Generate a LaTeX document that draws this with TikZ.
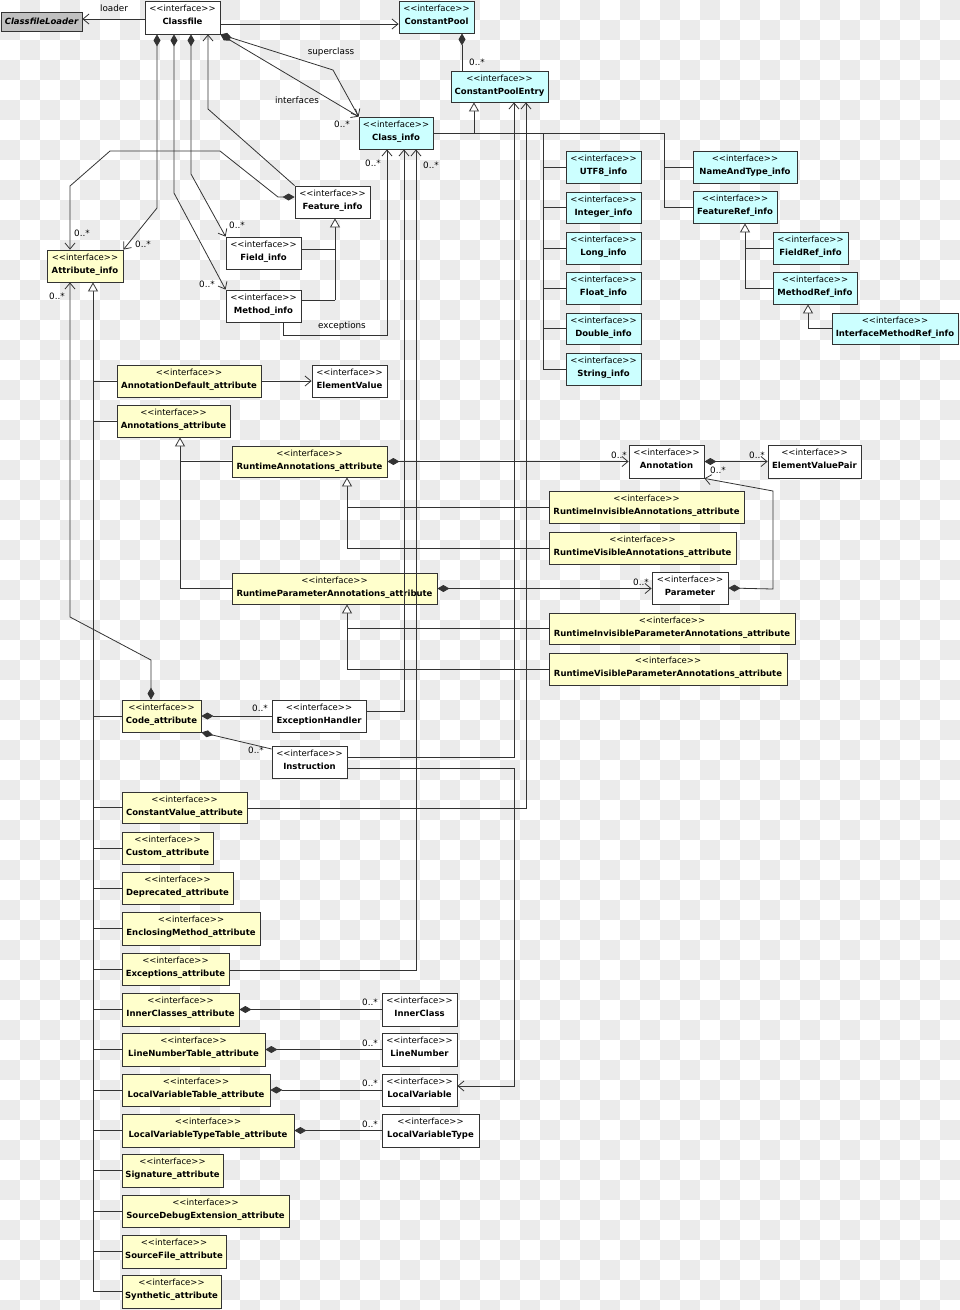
\documentclass[tikz,border=0pt]{standalone}
\usepackage{fontspec}
\setmainfont{DejaVu Sans}
\usetikzlibrary{arrows.meta,shadows}
\definecolor{chk}{HTML}{EBEBEB}
\definecolor{cyanf}{HTML}{CCFFFF}
\definecolor{yelf}{HTML}{FFFFCC}
\definecolor{grayf}{HTML}{C0C0C0}
\definecolor{ln}{HTML}{333333}
\tikzset{
  box/.style={draw=ln, line width=0.8pt, inner sep=0pt,
    drop shadow={shadow xshift=1.2pt, shadow yshift=-1.2pt, opacity=0.3}},
  cy/.style={fill=cyanf}, ye/.style={fill=yelf}, wh/.style={fill=white},
  st/.style={font=\fontsize{8.5}{10}\selectfont, anchor=base, inner sep=0pt},
  nm/.style={font=\fontsize{8.5}{10}\selectfont\bfseries, anchor=base, inner sep=0pt},
  lbl/.style={font=\fontsize{8.8}{10}\selectfont, inner sep=0pt, anchor=center},
  conn/.style={draw=ln, line width=0.8pt},
  oa/.style={-{Straight Barb[length=6pt,width=10pt]}},
  gen/.style={-{Triangle[fill=white,length=9pt,width=10pt]}},
  dO/.style={{Diamond[fill=ln,length=12pt,width=7pt]}-{Straight Barb[length=6pt,width=10pt]}},
  dN/.style={{Diamond[fill=ln,length=12pt,width=7pt]}-},
}
\newcommand\ibox[7]{%
  \node[box,#2,minimum width={#5-#3},minimum height={#6-#4}] (#1) at ({(#3+#5)/2},{(#4+#6)/2}) {};
  \node[st] (#1s) at ([yshift=-10.5pt]#1.north) {<{}<interface>{}>};
  \node[nm] (#1n) at ([yshift=-23.8pt]#1.north) {#7};
}
\begin{document}
\begin{tikzpicture}[x=1pt,y=-1pt]
\useasboundingbox (0,0) rectangle (960,1310);
\begin{scope}
\clip (0,0) rectangle (960,1310);
\fill[white] (0,0) rectangle (960,1310);
\foreach \j in {0,2,...,64}{\foreach \i in {1,3,...,47}{%
  \fill[chk] (\i*20,\j*20) rectangle ++(20,20);
  \fill[chk] (\i*20-20,\j*20+20) rectangle ++(20,20);}}
\end{scope}

% boxes
\node[box, fill=grayf, minimum width=81, minimum height=19,
  font=\fontsize{8.5}{10}\selectfont\bfseries\itshape] (cfl) at (41.5,21.5) {ClassfileLoader};
\ibox{cf}{wh}{145}{1}{220}{34}{Classfile}
\ibox{cp}{cy}{399}{1}{474}{33}{ConstantPool}
\ibox{cpe}{cy}{451}{71}{548}{102}{ConstantPoolEntry}
\ibox{ci}{cy}{359}{117}{433}{149}{Class\_info}
\ibox{utf}{cy}{566}{151}{641}{183}{UTF8\_info}
\ibox{int}{cy}{566}{192}{641}{223}{Integer\_info}
\ibox{lng}{cy}{566}{232}{641}{264}{Long\_info}
\ibox{flt}{cy}{566}{272}{641}{304}{Float\_info}
\ibox{dbl}{cy}{566}{313}{641}{344}{Double\_info}
\ibox{str}{cy}{566}{353}{641}{385}{String\_info}
\ibox{nat}{cy}{693}{151}{797}{183}{NameAndType\_info}
\ibox{fref}{cy}{693}{191}{777}{223}{FeatureRef\_info}
\ibox{fldref}{cy}{773}{232}{848}{264}{FieldRef\_info}
\ibox{mref}{cy}{773}{272}{857}{304}{MethodRef\_info}
\ibox{imref}{cy}{832}{313}{958}{344}{InterfaceMethodRef\_info}

\ibox{feat}{wh}{295}{186}{370}{218}{Feature\_info}
\ibox{fld}{wh}{226}{237}{301}{269}{Field\_info}
\ibox{meth}{wh}{226}{290}{301}{322}{Method\_info}
\ibox{ev}{wh}{312}{365}{387}{397}{ElementValue}
\ibox{ann}{wh}{629}{445}{704}{478}{Annotation}
\ibox{evp}{wh}{768}{445}{861}{478}{ElementValuePair}
\ibox{par}{wh}{652}{572}{728}{604}{Parameter}
\ibox{eh}{wh}{272}{700}{366}{732}{ExceptionHandler}
\ibox{instr}{wh}{272}{746}{347}{778}{Instruction}
\ibox{ic}{wh}{382}{993}{457}{1026}{InnerClass}
\ibox{lnum}{wh}{382}{1033}{457}{1066}{LineNumber}
\ibox{lv}{wh}{382}{1074}{457}{1106}{LocalVariable}
\ibox{lvty}{wh}{382}{1114}{479}{1147}{LocalVariableType}

\ibox{attr}{ye}{47}{250}{123}{282}{Attribute\_info}
\ibox{anndef}{ye}{117}{365}{261}{397}{AnnotationDefault\_attribute}
\ibox{anns}{ye}{117}{405}{230}{437}{Annotations\_attribute}
\ibox{rann}{ye}{232}{446}{387}{477}{RuntimeAnnotations\_attribute}
\ibox{riann}{ye}{549}{491}{744}{523}{RuntimeInvisibleAnnotations\_attribute}
\ibox{rvann}{ye}{549}{532}{736}{564}{RuntimeVisibleAnnotations\_attribute}
\ibox{rpann}{ye}{232}{573}{437}{604}{RuntimeParameterAnnotations\_attribute}
\ibox{ripann}{ye}{549}{613}{795}{644}{RuntimeInvisibleParameterAnnotations\_attribute}
\ibox{rvpann}{ye}{549}{653}{787}{685}{RuntimeVisibleParameterAnnotations\_attribute}
\ibox{code}{ye}{122}{700}{201}{732}{Code\_attribute}
\ibox{cval}{ye}{122}{792}{247}{823}{ConstantValue\_attribute}
\ibox{custom}{ye}{122}{832}{213}{864}{Custom\_attribute}
\ibox{depr}{ye}{122}{872}{233}{904}{Deprecated\_attribute}
\ibox{encl}{ye}{122}{912}{260}{945}{EnclosingMethod\_attribute}
\ibox{excs}{ye}{122}{953}{229}{985}{Exceptions\_attribute}
\ibox{inner}{ye}{122}{993}{239}{1026}{InnerClasses\_attribute}
\ibox{lnt}{ye}{122}{1033}{265}{1066}{LineNumberTable\_attribute}
\ibox{lvt}{ye}{122}{1074}{270}{1106}{LocalVariableTable\_attribute}
\ibox{lvtt}{ye}{122}{1114}{294}{1147}{LocalVariableTypeTable\_attribute}
\ibox{sig}{ye}{122}{1154}{223}{1187}{Signature\_attribute}
\ibox{sde}{ye}{122}{1195}{289}{1227}{SourceDebugExtension\_attribute}
\ibox{sfile}{ye}{122}{1235}{226}{1268}{SourceFile\_attribute}
\ibox{synth}{ye}{122}{1275}{221}{1308}{Synthetic\_attribute}

% connectors: Classfile
\draw[conn,oa] (cf.west |- 0,19) -- (cfl.east |- 0,19);
\draw[conn,oa] (cf.east |- 0,24) -- (cp.west |- 0,24);
\draw[conn,dO] (cf.south -| 157,0) -- (157,208) -- (attr.north east);
\draw[conn,dO] (cf.south -| 174,0) -- (174,193) -- (meth.north west);
\draw[conn,dO] (cf.south -| 191,0) -- (191,174) -- (fld.north west);
\draw[conn,oa] (feat.north west) -- (208,109) -- (cf.south -| 208,0);
\draw[conn,dO] (cf.south east) -- (333,70) -- (ci.north west);
\draw[conn,dO] (cf.south east) -- (ci.north west);
\draw[conn,dN] (cp.south -| 462,0) -- (cpe.north -| 462,0);
\draw[conn,dO] (feat.west |- 0,197) -- (278,197) -- (220,151) -- (110,151) -- (70,186) -- (attr.north -| 70,0);
\draw[conn,dO] (code.north -| 151,0) -- (151,660) -- (70,617) -- (attr.south -| 70,0);

% constant pool generalizations
\draw[conn,gen] (474,133) -- (cpe.south -| 474,0);
\draw[conn] (ci.east |- 0,133) -- (664,133) -- (fref.west -| 664,0) -- (fref.west);
\draw[conn] (nat.west -| 664,0) -- (nat.west);
\draw[conn] (543,133) -- (str.west -| 543,0) -- (str.west);
\foreach \n in {utf,int,lng,flt,dbl} \draw[conn] (\n.west -| 543,0) -- (\n.west);
\draw[conn,gen] (mref.west -| 745,0) -- (fref.south -| 745,0);
\draw[conn] (mref.west -| 745,0) -- (mref.west);
\draw[conn] (fldref.west -| 745,0) -- (fldref.west);
\draw[conn,gen] (imref.west -| 808,0) -- (mref.south -| 808,0);
\draw[conn] (imref.west -| 808,0) -- (imref.west);

% feature generalization
\draw[conn,gen] (335,300) -- (feat.south -| 335,0);
\draw[conn] (fld.east |- 0,249) -- (335,249);
\draw[conn] (meth.east |- 0,300) -- (335,300);

% to Class_info / ConstantPoolEntry
\draw[conn,oa] (meth.south -| 283,0) -- (283,335) -- (387,335) -- (ci.south -| 387,0);
\draw[conn,oa] (eh.east |- 0,711) -- (404,711) -- (ci.south -| 404,0);
\draw[conn,oa] (excs.east |- 0,970) -- (416,970) -- (ci.south -| 416,0);
\draw[conn,oa] (instr.east |- 0,757) -- (514,757) -- (cpe.south -| 514,0);
\draw[conn,oa] (instr.east |- 0,768) -- (514,768) -- (514,1086) -- (lv.east |- 0,1086);
\draw[conn,oa] (cval.east |- 0,808) -- (526,808) -- (cpe.south -| 526,0);

% attribute generalization
\draw[conn,gen] (synth.west -| 93,0) -- (attr.south -| 93,0);
\foreach \n in {anndef,anns,code,cval,custom,depr,encl,excs,inner,lnt,lvt,lvtt,sig,sde,sfile,synth}
  \draw[conn] (\n.west -| 93,0) -- (\n.west);

% annotations
\draw[conn,oa] (anndef.east) -- (ev.west |- anndef.east);
\draw[conn,gen] (rpann.west -| 180,0) -- (anns.south -| 180,0);
\draw[conn] (rann.west -| 180,0) -- (rann.west);
\draw[conn] (rpann.west -| 180,0) -- (rpann.west);
\draw[conn,gen] (rvann.west -| 347,0) -- (rann.south -| 347,0);
\draw[conn] (riann.west -| 347,0) -- (riann.west);
\draw[conn] (rvann.west -| 347,0) -- (rvann.west);
\draw[conn,gen] (rvpann.west -| 347,0) -- (rpann.south -| 347,0);
\draw[conn] (ripann.west -| 347,0) -- (ripann.west);
\draw[conn] (rvpann.west -| 347,0) -- (rvpann.west);
\draw[conn,dO] (rann.east) -- (ann.west |- rann.east);
\draw[conn,dO] (ann.east) -- (evp.west |- ann.east);
\draw[conn,dO] (par.east) -- (773,589) -- (773,491) -- (ann.south east);
\draw[conn,dO] (rpann.east) -- (par.west |- rpann.east);

% code & tables
\draw[conn,dN] (code.east |- 0,716) -- (eh.west |- 0,716);
\draw[conn,dN] (code.south east) -- (instr.west |- 0,749);
\draw[conn,dN] (inner.east) -- (ic.west |- inner.east);
\draw[conn,dN] (lnt.east) -- (lnum.west |- lnt.east);
\draw[conn,dN] (lvt.east) -- (lv.west |- lvt.east);
\draw[conn,dN] (lvtt.east) -- (lvty.west |- lvtt.east);

% labels
\node[lbl] (t1) at (114,8) {loader};
\node[lbl] (t2) at (331,52) {superclass};
\node[lbl] (t3) at (297,100) {interfaces};
\node[lbl] (t4) at (342,326) {exceptions};
\foreach \p [count=\k] in {(342,124),(477,62),(373,163),(431,165),(82,233),(143,244),(237,225),(207,284),(57,296),(619,455),(757,455),(718,470),(641,582),(260,708),(256,750),(370,1002),(370,1043),(370,1083),(370,1124)}
  \node[lbl] (m\k) at \p {0..*};
\end{tikzpicture}
\end{document}
